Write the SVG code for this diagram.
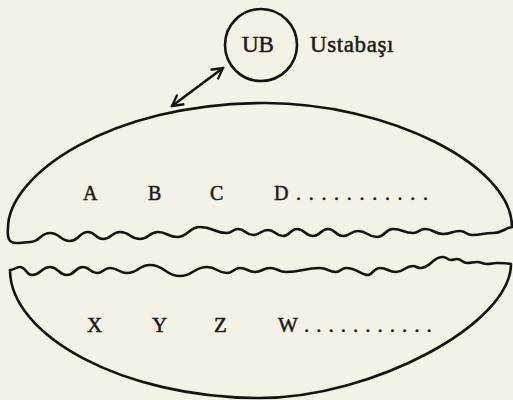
<svg xmlns="http://www.w3.org/2000/svg" width="513" height="400" viewBox="0 0 513 400">
<style>
.ln{fill:none;stroke:#141414;stroke-width:2.6;stroke-linejoin:round;stroke-linecap:round}
.t{font-family:"Liberation Serif","DejaVu Serif",serif;fill:#1a1a1a;stroke:#1a1a1a;stroke-width:0.5}
</style>
<defs>
<marker id="ah" markerUnits="userSpaceOnUse" markerWidth="16" markerHeight="16" viewBox="0 0 16 16" refX="14" refY="8" orient="auto-start-reverse">
<path d="M3,2 L14,8 L3,14" fill="none" stroke="#141414" stroke-width="2.3" stroke-linejoin="miter"/>
</marker>
</defs>
<rect width="513" height="400" fill="#f4f2e6"/>
<g id="ub">
<circle cx="261" cy="45" r="36" class="ln"/>
<text class="t" x="242" y="52" font-size="23">UB</text>
</g>
<g id="ustabasi-label">
<text class="t" x="310" y="52" font-size="23" letter-spacing="0.6">Ustabaşı</text>
</g>
<g id="upper-group">
<path class="ln" d="M512,227 C512,165 388,103 265,103 C110,103 8,175 8,228 C7,238 9,243 16,243 C22,243 26,242 30,242 C40,242 40,233 50,233 C60,233 60,241 70,241 C79,241 79,232 88,232 C95.5,232 95.5,239 103,239 C111.5,239 111.5,232 120,232 C130,232 130,239 140,239 C149,239 149,232 158,232 C167.5,232 167.5,237 177,237 C188.5,237 188.5,227 200,227 C213.5,227 213.5,233 227,233 C232.5,233 232.5,229 238,229 C245.5,229 245.5,235 253,235 C260.5,235 260.5,230 268,230 C275.5,230 275.5,236 283,236 C290,236 290,229 297,229 C305,229 305,236 313,236 C320.5,236 320.5,229 328,229 C335.5,229 335.5,236 343,236 C350.5,236 350.5,231 358,231 C367.5,231 367.5,237 377,237 C385,237 385,229 393,229 C403,229 403,233 413,233 C419,233 419,229 425,229 C434,229 434,234 443,234 C451.5,234 451.5,231 460,231 C466,231 466,235 472,235 C482.5,235 482.5,233 493,233 C502.5,233 505,228 512,227"/>
<text class="t" x="83" y="200" font-size="20">A</text>
<text class="t" x="148" y="200" font-size="20">B</text>
<text class="t" x="210" y="200" font-size="20">C</text>
<text class="t" x="274" y="200" font-size="20">D<tspan x="296" letter-spacing="7.7">...........</tspan></text>
</g>
<g id="lower-group">
<path class="ln" d="M10,270 C15,270 15,267 20,267 C26,267 26,275 32,275 C41,275 41,267 50,267 C58.5,267 58.5,275 67,275 C75,275 75,267 83,267 C90,267 90,273 97,273 C103.5,273 103.5,268 110,268 C118.5,268 118.5,273 127,273 C138.5,273 138.5,265 150,265 C165,265 165,276 180,276 C193.5,276 193.5,267 207,267 C217,267 217,273 227,273 C233.5,273 233.5,268 240,268 C247.5,268 247.5,272 255,272 C262.5,272 262.5,268 270,268 C278,268 278,272 286,272 C303,272 303,268 320,268 C328,268 328,272 336,272 C341,272 341,268 346,268 C357,268 361,275 368,275 C372,275 374,268 380,268 C388,268 388,272 396,272 C404.5,272 404.5,266 413,266 C416.5,266 416.5,268 420,268 C431.5,268 431.5,257 443,257 C447,257 447,260 451,260 C454,260 454,259 457,259 C462,259 462,263 467,263 C472,263 472,262 477,262 C482,262 482,264 487,264 C492,264 492,263 497,263 C504,263 507,263 511,264 C511,324 372,398 260,398 C122,398 10,335 10,270"/>
<text class="t" x="87" y="332" font-size="21">X</text>
<text class="t" x="152" y="332" font-size="21">Y</text>
<text class="t" x="214" y="332" font-size="21">Z</text>
<text class="t" x="278" y="332" font-size="21">W<tspan x="304" letter-spacing="7">...........</tspan></text>
</g>
<g id="connectors">
<line x1="172" y1="106" x2="223" y2="68" class="ln" stroke-width="2.1" marker-start="url(#ah)" marker-end="url(#ah)"/>
</g>
</svg>
